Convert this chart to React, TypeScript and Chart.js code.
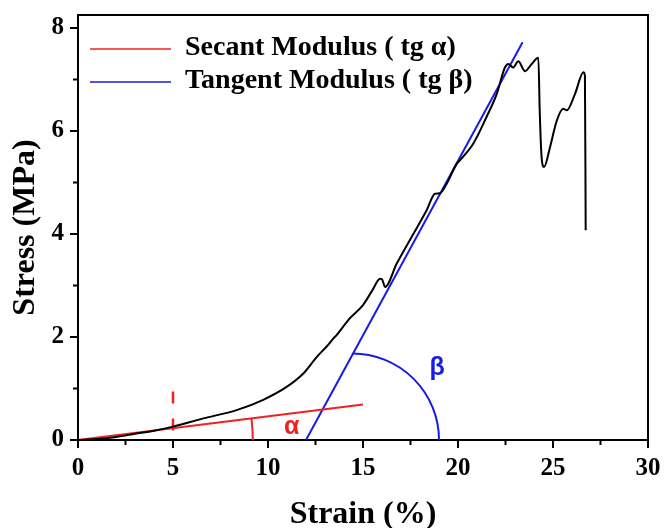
import React, { useEffect, useRef } from "react";
import { Chart, registerables } from "chart.js";
Chart.register(...registerables);

// Stress–strain curve (Strain %, Stress MPa)
const strain = [0, 1, 2, 3, 4, 5, 6.6, 8.35, 9.75, 10.98, 11.86, 12.56, 13.1, 13.44, 13.6, 14.3, 15.0, 15.5, 15.9, 16.0, 16.16, 16.77, 17.65, 18.35, 18.79, 19.05, 19.4, 19.93, 20.1, 20.8, 21.5, 22.04, 22.47, 22.65, 22.9, 23.17, 23.53, 23.88, 24.23, 24.3, 24.4, 24.53, 24.84, 25.2, 25.54, 25.72, 26.16, 26.6, 26.68, 26.72];
const stress = [0, 0.02, 0.06, 0.12, 0.18, 0.26, 0.42, 0.58, 0.78, 1.03, 1.29, 1.61, 1.82, 1.97, 2.03, 2.36, 2.62, 2.91, 3.13, 3.12, 2.97, 3.42, 4.0, 4.46, 4.78, 4.79, 4.97, 5.36, 5.43, 5.75, 6.27, 6.72, 7.23, 7.3, 7.23, 7.35, 7.16, 7.3, 7.42, 6.4, 5.49, 5.3, 5.68, 6.2, 6.43, 6.4, 6.72, 7.14, 7.07, 4.07];

// Secant line
const secantStrain = [0, 15];
const secantStress = [0, 0.69];
// Tangent line
const tangentStrain = [12.0, 23.4];
const tangentStress = [0, 7.72];
// Dashed marker at 5 % strain
const markerStrain = [5, 5];
const markerStress = [0.94, 0.16];

const legendLabels = ["Secant Modulus ( tg α)", "Tangent Modulus ( tg β)"];
const xMajorTicks = [0, 5, 10, 15, 20, 25, 30];
const xMinorTicks = [2.5, 7.5, 12.5, 17.5, 22.5, 27.5];
const yMajorTicks = [0, 2, 4, 6, 8];
const yMinorTicks = [1, 3, 5, 7];

// angle annotations (data units)
const alphaArcEnd = 9.2;
const betaArcCenter = 14.45;
const betaArcEnd = 19.0;
const alphaLabel = { x: 11.25, y: 0.25, text: "α" };
const betaLabel = { x: 18.9, y: 1.4, text: "β" };

const RED = "#ee2222";
const BLUE = "#1a1ae6";
const SERIF = '"Liberation Serif", "Times New Roman", serif';

const decorPlugin = {
  id: "decor",
  afterDraw(chart: any) {
    const { ctx, chartArea: a, scales } = chart;
    const x = scales.x, y = scales.y;
    ctx.save();
    // alpha arc
    const ox = x.getPixelForValue(0), oy = y.getPixelForValue(0);
    const ra = x.getPixelForValue(alphaArcEnd) - ox;
    const ang = Math.atan2(
      y.getPixelForValue(secantStress[1]) - oy,
      x.getPixelForValue(secantStrain[1]) - ox
    );
    ctx.lineWidth = 2;
    ctx.strokeStyle = RED;
    ctx.beginPath();
    ctx.arc(ox, oy, ra, ang, 0);
    ctx.stroke();
    // beta arc
    const bx = x.getPixelForValue(betaArcCenter);
    const rb = x.getPixelForValue(betaArcEnd) - bx;
    ctx.strokeStyle = BLUE;
    ctx.beginPath();
    ctx.arc(bx, oy, rb, -Math.PI / 2, 0);
    ctx.stroke();
    // labels
    ctx.font = 'bold 25px "Liberation Sans", Arial, sans-serif';
    ctx.textAlign = "center";
    ctx.textBaseline = "middle";
    ctx.fillStyle = RED;
    ctx.fillText(alphaLabel.text, x.getPixelForValue(alphaLabel.x), y.getPixelForValue(alphaLabel.y));
    ctx.fillStyle = BLUE;
    ctx.fillText(betaLabel.text, x.getPixelForValue(betaLabel.x), y.getPixelForValue(betaLabel.y));

    // frame top / right
    ctx.strokeStyle = "#000";
    ctx.lineWidth = 2;
    ctx.beginPath();
    ctx.moveTo(a.left, a.top);
    ctx.lineTo(a.right, a.top);
    ctx.lineTo(a.right, a.bottom);
    ctx.stroke();

    // ticks
    ctx.beginPath();
    xMajorTicks.forEach((v) => {
      const px = x.getPixelForValue(v);
      ctx.moveTo(px, a.bottom);
      ctx.lineTo(px, a.bottom + 8);
    });
    xMinorTicks.forEach((v) => {
      const px = x.getPixelForValue(v);
      ctx.moveTo(px, a.bottom);
      ctx.lineTo(px, a.bottom + 5);
    });
    yMajorTicks.forEach((v) => {
      const py = y.getPixelForValue(v);
      ctx.moveTo(a.left, py);
      ctx.lineTo(a.left - 8, py);
    });
    yMinorTicks.forEach((v) => {
      const py = y.getPixelForValue(v);
      ctx.moveTo(a.left, py);
      ctx.lineTo(a.left - 5, py);
    });
    ctx.stroke();

    // legend
    const legendItems = [
      { color: RED, text: legendLabels[0], y: 49 },
      { color: BLUE, text: legendLabels[1], y: 82 },
    ];
    ctx.font = `bold 28px ${SERIF}`;
    ctx.textAlign = "left";
    ctx.textBaseline = "middle";
    legendItems.forEach((it) => {
      ctx.strokeStyle = it.color;
      ctx.lineWidth = 1.5;
      ctx.beginPath();
      ctx.moveTo(a.left + 12, it.y);
      ctx.lineTo(a.left + 93, it.y);
      ctx.stroke();
      ctx.fillStyle = "#000";
      ctx.fillText(it.text, a.left + 107, it.y - 1);
    });
    ctx.restore();
  },
};

export default function App() {
  const ref = useRef<HTMLCanvasElement | null>(null);
  useEffect(() => {
    if (!ref.current) return;
    const curve = strain.map((s, i) => ({ x: s, y: stress[i] }));
    const secant = secantStrain.map((s, i) => ({ x: s, y: secantStress[i] }));
    const tangent = tangentStrain.map((s, i) => ({ x: s, y: tangentStress[i] }));
    const marker = markerStrain.map((s, i) => ({ x: s, y: markerStress[i] }));
    const tickFont = { family: SERIF, size: 25, weight: "bold" as const };
    const titleFont = { family: SERIF, size: 32, weight: "bold" as const };
    const chart = new Chart(ref.current, {
      type: "scatter",
      data: {
        datasets: [
          { label: "Stress", data: curve, showLine: true, borderColor: "#000", borderWidth: 2, pointRadius: 0, cubicInterpolationMode: "monotone", clip: 4 } as any,
          { label: legendLabels[0], data: secant, showLine: true, borderColor: RED, borderWidth: 2, pointRadius: 0, clip: 4 } as any,
          { label: legendLabels[1], data: tangent, showLine: true, borderColor: BLUE, borderWidth: 2, pointRadius: 0, clip: 4 } as any,
          { label: "marker", data: marker, showLine: true, borderColor: RED, borderWidth: 2.5, borderDash: [12, 15], pointRadius: 0, clip: 4 } as any,
        ],
      },
      options: {
        responsive: false,
        animation: false,
        layout: { padding: { top: 15, right: 17, left: 0, bottom: 0 } },
        plugins: { legend: { display: false }, tooltip: { enabled: false } },
        scales: {
          x: {
            type: "linear",
            min: 0,
            max: 30,
            ticks: { stepSize: 5, color: "#000", font: tickFont, padding: 6, maxRotation: 0, includeBounds: false },
            grid: { display: false, drawTicks: true, tickLength: 8 },
            border: { display: true, color: "#000", width: 2 },
            title: { display: true, text: "Strain (%)", color: "#000", font: titleFont, padding: { top: 0, bottom: -6 } },
            afterFit: (s: any) => { s.height = 88; s.paddingLeft = 0; s.paddingRight = 0; },
          },
          y: {
            type: "linear",
            min: 0,
            max: 8.25,
            ticks: { stepSize: 2, color: "#000", font: tickFont, padding: 6, includeBounds: false },
            grid: { display: false, drawTicks: true, tickLength: 8 },
            border: { display: true, color: "#000", width: 2 },
            title: { display: true, text: "Stress (MPa)", color: "#000", font: titleFont, padding: { top: 7, bottom: 0 } },
            afterFit: (s: any) => { s.width = 78; s.paddingTop = 0; s.paddingBottom = 0; },
          },
        },
      },
      plugins: [decorPlugin],
    });
    return () => chart.destroy();
  }, []);
  return (
    <div style={{ position: "fixed", left: 0, top: 0, width: 665, height: 528, background: "#fff" }}>
      <canvas ref={ref} width={665} height={528} />
    </div>
  );
}
